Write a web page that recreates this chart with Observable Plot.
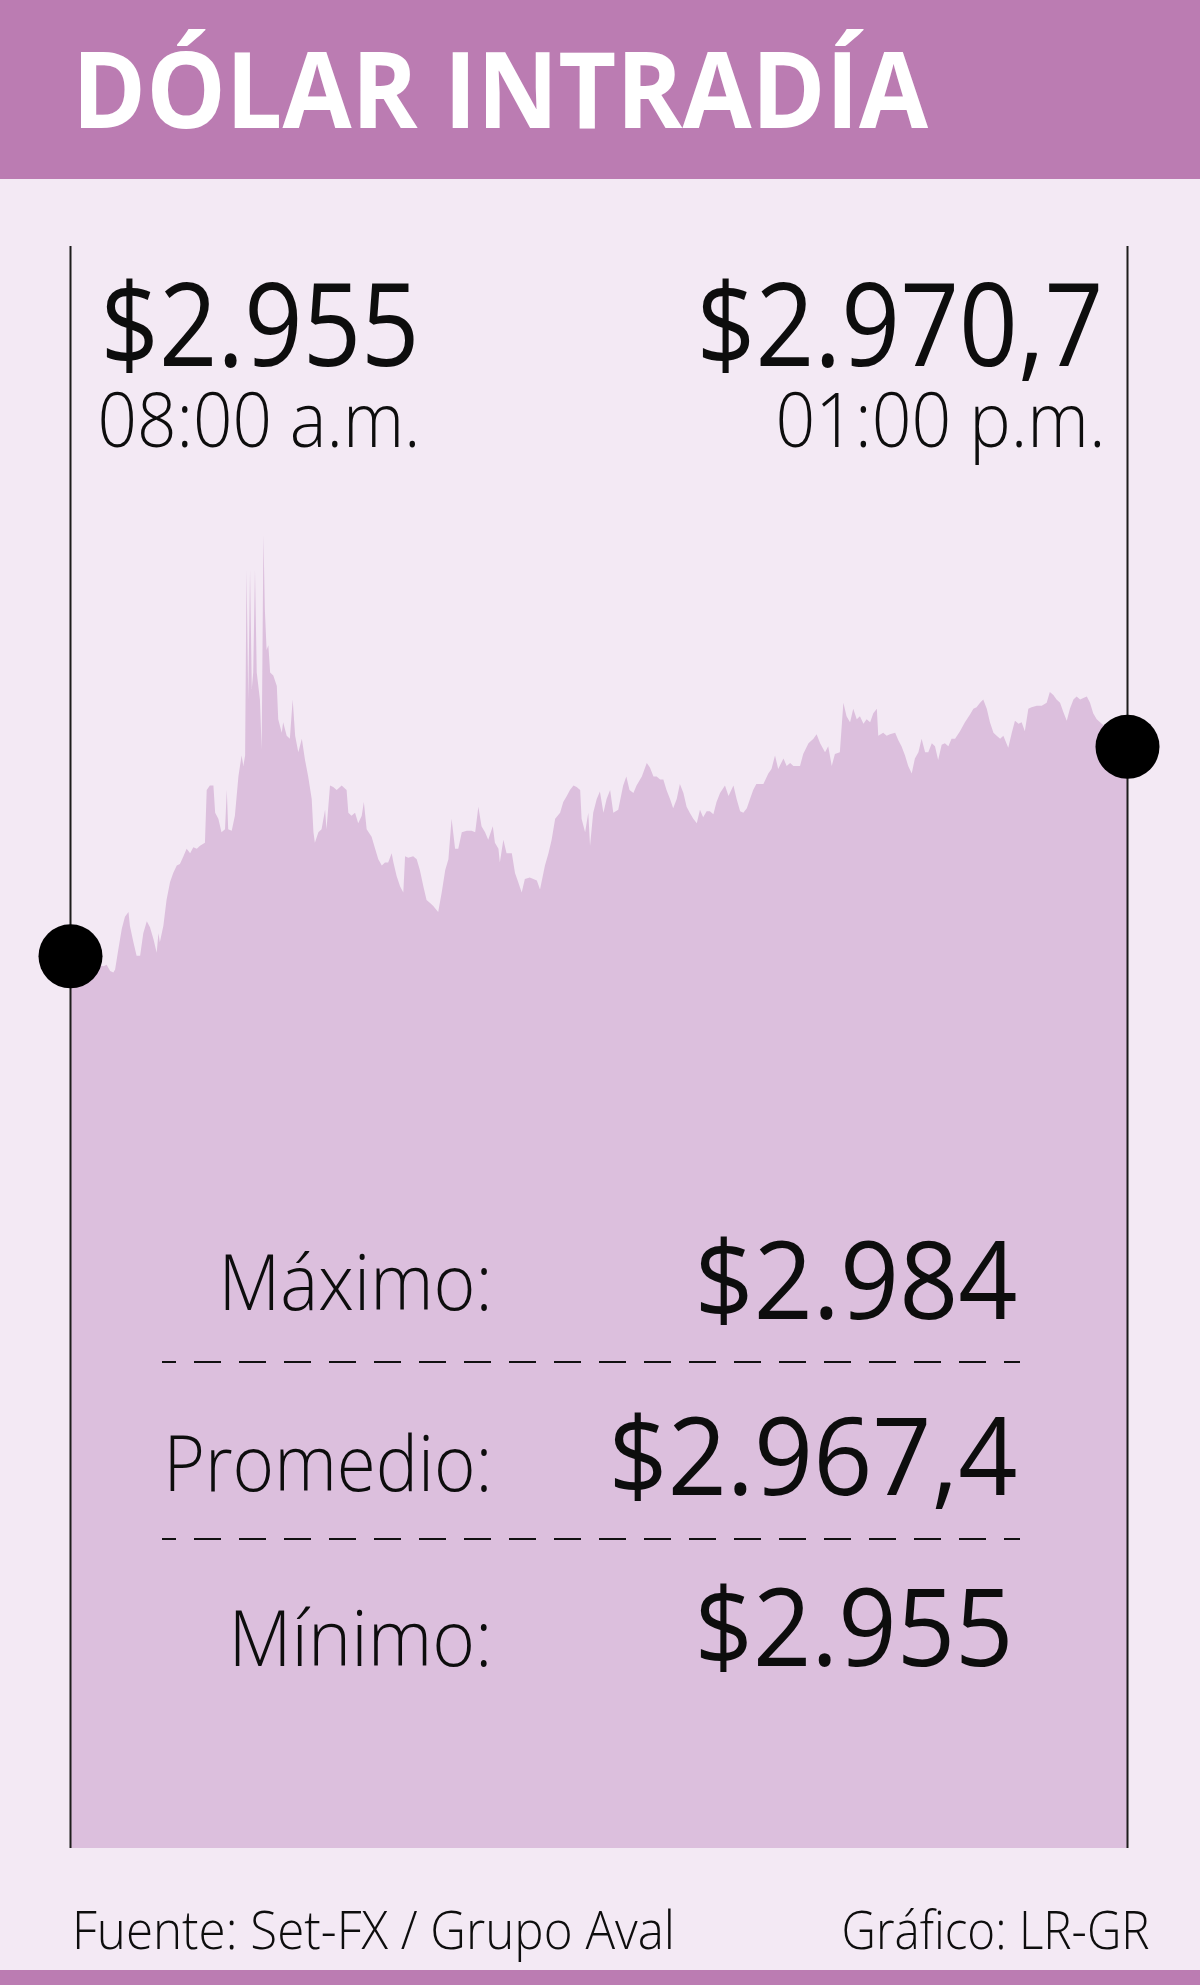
<!DOCTYPE html>
<html>
<head>
<meta charset="utf-8">
<script src="https://cdn.jsdelivr.net/npm/d3@7"></script>
<script src="https://cdn.jsdelivr.net/npm/@observablehq/plot@0.6"></script>
<style>
  html, body { margin: 0; padding: 0; background: #f3e9f4; }
  #page { position: relative; width: 1200px; height: 1985px; overflow: hidden; background: #f3e9f4; font-family: "Open Sans", "Noto Sans", sans-serif; }
  #header { position: absolute; left: 0; top: 0; width: 1200px; height: 179px; background: #bb7cb2; }
  #chart { position: absolute; left: 0; top: 179px; }
  #band { position: absolute; left: 0; top: 1970px; width: 1200px; height: 15px; background: #bb7cb2; }
  .t { position: absolute; white-space: nowrap; line-height: 1; }
  .dash { position: absolute; height: 2px; background-image: repeating-linear-gradient(to right, #111 0 27px, transparent 27px 45px); background-position-x: -13px; }
</style>
</head>
<body>
<div id="page">
  <div id="header"></div>
  <div id="chart"></div>
  <div id="band"></div>
</div>
<script>
// ---------------- data ----------------
const title = "DÓLAR INTRADÍA";
const source = "Fuente: Set-FX / Grupo Aval";
const credit = "Gráfico: LR-GR";

// minutes after 08:00 a.m.
const minutes = [0,9.5,10.4,11.4,12.3,12.8,13.7,14.7,15.6,16.6,17.0,18.0,18.9,19.9,20.8,21.8,22.7,23.7,24.6,25.1,25.5,26.5,27.4,28.4,29.3,30.3,31.2,32.2,33.1,34.1,35.0,36.0,36.9,38.3,38.8,39.7,40.7,41.2,42.1,43.0,44.0,44.5,44.9,45.9,46.8,47.8,48.7,49.2,49.7,50.1,50.6,51.1,51.6,52.0,52.5,53.0,53.9,54.4,54.9,55.3,55.8,56.3,56.8,57.7,58.7,59.1,60.1,60.5,61.5,62.4,63.2,63.9,64.8,65.8,66.7,67.6,68.6,69.1,69.5,70.5,71.4,72.4,72.8,73.8,74.7,75.7,77.1,78.5,79.0,79.9,80.9,81.8,82.8,83.4,84.2,85.6,86.6,87.5,88.5,89.4,90.3,91.3,91.8,92.7,93.7,94.6,95.1,96.0,97.4,98.4,99.3,100.3,101.2,102.2,103.1,104.5,105.5,106.5,107.4,108.3,109.3,110.2,111.2,112.6,114.0,115.0,115.9,116.8,117.8,118.7,120.0,120.6,121.6,122.0,123.0,123.9,125.4,126.3,127.2,128.2,129.1,130.5,132.5,133.4,134.8,135.8,136.7,137.7,139.1,140.0,141.0,141.9,142.9,143.8,144.8,145.2,146.2,147.1,147.6,148.5,149.5,150.4,151.4,152.3,153.3,154.2,155.6,157.0,157.9,158.8,159.9,160.8,162.3,163.7,164.6,165.6,166.5,167.5,168.4,169.3,170.3,171.2,172.2,173.1,174.1,175.0,175.9,176.9,177.9,178.8,179.7,180.7,181.6,182.6,183.5,184.5,185.9,186.9,188.3,189.2,190.2,191.1,192.1,193.0,193.9,194.8,196.8,198.2,199.1,200.1,201.0,202.5,203.4,204.4,205.3,207.2,208.1,209.6,211.0,211.9,212.9,214.3,215.2,216.2,217.1,218.5,219.5,220.4,221.4,222.3,223.3,224.2,225.2,226.1,227.1,228.0,229.0,229.4,230.8,231.8,232.7,234.2,235.1,236.0,237.0,237.9,238.9,239.8,240.8,241.7,242.7,243.6,244.6,245.5,246.4,247.4,248.3,249.3,250.2,251.2,252.6,254.0,255.4,256.4,257.3,258.3,259.2,260.2,261.1,262.1,263.0,264.0,264.9,266.3,267.3,268.2,269.2,270.1,271.0,272.0,272.9,274.4,275.8,277.2,278.1,279.1,280.0,281.0,281.9,282.9,283.8,284.8,285.7,286.7,287.6,288.6,289.5,290.4,291.4,300];

// price in pesos per dollar
const prices = [2956.1,2955.4,2955.5,2955.1,2955.0,2955.2,2956.5,2957.9,2958.7,2959.0,2958.1,2957.0,2956.1,2956.1,2957.6,2958.4,2958.0,2957.2,2956.3,2957.6,2957.0,2958.1,2959.8,2961.0,2961.6,2962.1,2962.2,2962.7,2963.2,2962.9,2963.3,2963.2,2963.4,2963.6,2967.1,2967.4,2967.4,2965.6,2965.2,2964.3,2964.5,2967.1,2964.5,2964.4,2965.4,2968.0,2969.4,2968.7,2969.4,2981.7,2973.1,2981.7,2973.8,2974.9,2981.7,2974.9,2973.1,2969.8,2984.0,2979.1,2976.4,2976.7,2974.9,2974.7,2974.0,2971.8,2970.9,2971.6,2970.7,2970.5,2973.1,2970.7,2969.6,2970.5,2969.1,2968.0,2966.5,2964.3,2963.6,2964.3,2964.5,2965.8,2964.5,2967.4,2967.3,2967.1,2967.4,2967.1,2965.6,2965.4,2965.6,2964.9,2965.4,2966.3,2964.5,2964.0,2963.2,2962.5,2962.1,2962.3,2962.3,2962.9,2962.3,2961.4,2960.7,2960.3,2962.7,2962.6,2962.7,2962.5,2961.8,2960.7,2959.8,2959.6,2959.4,2959.0,2960.3,2961.8,2962.5,2965.2,2963.2,2963.2,2964.3,2964.4,2964.4,2964.3,2966.0,2964.7,2964.3,2963.8,2964.7,2963.6,2963.2,2962.3,2963.8,2962.9,2962.9,2961.6,2961.0,2960.3,2961.2,2961.3,2961.1,2960.5,2962.1,2962.9,2963.8,2965.2,2965.6,2966.3,2966.7,2967.1,2967.4,2967.3,2967.1,2965.2,2964.3,2965.6,2963.4,2965.6,2966.5,2967.0,2965.6,2966.5,2967.1,2965.6,2965.8,2967.4,2968.0,2967.1,2966.9,2967.4,2968.0,2968.9,2968.6,2968.0,2968.0,2967.8,2967.8,2967.1,2966.5,2965.9,2966.5,2967.5,2966.9,2966.0,2965.6,2965.2,2964.9,2965.8,2965.3,2965.7,2965.7,2965.5,2966.3,2966.9,2967.4,2966.7,2967.4,2966.5,2965.7,2965.6,2965.9,2966.5,2967.1,2967.5,2967.5,2968.2,2968.5,2969.4,2968.5,2969.2,2968.7,2968.9,2968.7,2968.7,2969.5,2970.2,2970.5,2970.8,2970.2,2969.6,2970.0,2968.7,2969.5,2969.6,2972.9,2972.0,2971.6,2972.5,2971.8,2972.0,2971.5,2971.8,2971.6,2972.2,2972.5,2970.7,2970.9,2970.7,2970.8,2970.9,2970.4,2970.0,2969.4,2968.7,2968.2,2969.2,2969.6,2970.5,2969.6,2969.6,2970.2,2970.0,2969.1,2970.1,2970.2,2970.0,2970.5,2970.5,2971.0,2971.6,2972.1,2972.5,2972.6,2972.9,2973.1,2972.5,2971.6,2970.9,2970.7,2970.5,2970.7,2969.9,2970.9,2971.7,2971.5,2971.6,2971.0,2972.5,2972.6,2972.7,2972.7,2972.9,2973.6,2973.4,2973.1,2972.9,2972.3,2971.7,2972.5,2973.1,2973.3,2973.1,2973.2,2973.3,2972.9,2972.2,2971.8,2970.0];

// headline values
const openLabel = "08:00 a.m.";
const closeLabel = "01:00 p.m.";
const openValue = 2955;
const closeValue = 2970.7;
const statLabels = ["Máximo:", "Promedio:", "Mínimo:"];
const statValues = [2984, 2967.4, 2955];

// ---------------- formatting ----------------
const es = d3.formatLocale({decimal: ",", thousands: ".", grouping: [3], currency: ["$", ""]});
const fmt = v => Number.isInteger(v) ? es.format("$,.0f")(v) : es.format("$,.1f")(v);

const series = minutes.map((m, i) => ({m, p: prices[i]}));
const Y_DOMAIN = [2896.9, 3003.2];
const INK = "#0d0d0d";
const FONT = '"Open Sans", "Noto Sans", sans-serif';

// target widths used to fit the condensed original typeface
const fitWidth = new Map();
function label(text, opts, width) {
  fitWidth.set(text, width);
  return Plot.text([text], {text: d => d, lineAnchor: "bottom", fill: INK, fontFamily: FONT, ...opts});
}

const statY = [1063, 1246, 1419];
const statMarks = statLabels.flatMap((lab, i) => [
  label(lab, {frameAnchor: "top-left", dx: 422, dy: statY[i] + (i === 1 ? -2 : 0) - 0, textAnchor: "end", fontSize: 78, fontWeight: 300}, [274, 329, 264][i]),
  label(fmt(statValues[i]), {frameAnchor: "top-left", dx: 947 - (i === 2 ? 4 : 0), dy: statY[i] + (i === 0 ? 9 : i === 1 ? 2 : 0), textAnchor: "end", fontSize: 108, fontWeight: 400}, [323, 409, 318][i])
]);

const chart = Plot.plot({
  width: 1200,
  height: 1701,
  marginLeft: 70,
  marginRight: 73,
  marginTop: 67,
  marginBottom: 32,
  x: {domain: [minutes[0], minutes[minutes.length - 1]], axis: null},
  y: {domain: Y_DOMAIN, axis: null},
  style: {background: "transparent", overflow: "visible"},
  marks: [
    Plot.areaY(series, {x: "m", y1: Y_DOMAIN[0], y2: "p", fill: "#dcbfdd"}),
    Plot.ruleX([minutes[0], minutes[minutes.length - 1]], {stroke: "#1d1d1b", strokeWidth: 2}),
    Plot.dot([series[0], series[series.length - 1]], {x: "m", y: "p", r: 32, fill: "#000"}),
    label(fmt(openValue), {frameAnchor: "top-left", dx: 30, dy: 119, textAnchor: "start", fontSize: 115, fontWeight: 400}, 319),
    label(openLabel, {frameAnchor: "top-left", dx: 27, dy: 200, textAnchor: "start", fontSize: 76, fontWeight: 300}, 323),
    label(fmt(closeValue), {frameAnchor: "top-right", dx: -24, dy: 119, textAnchor: "end", fontSize: 115, fontWeight: 400}, 407),
    label(closeLabel, {frameAnchor: "top-right", dx: -22, dy: 200, textAnchor: "end", fontSize: 76, fontWeight: 300}, 330),
    ...statMarks
  ]
});
document.getElementById("chart").append(chart);

// fit the widths of the chart texts
chart.querySelectorAll("text").forEach(t => {
  const w = fitWidth.get(t.textContent);
  if (w) { t.setAttribute("textLength", w); t.setAttribute("lengthAdjust", "spacingAndGlyphs"); }
});

// dashed separators between stats
const page = document.getElementById("page");
[1361, 1538].forEach(y => {
  const d = document.createElement("div");
  d.className = "dash";
  d.style.left = "162px"; d.style.top = y + "px"; d.style.width = "858px";
  page.append(d);
});

// HTML text placed by baseline and fitted to width
function placeText(text, {x, anchor, baseline, size, weight, width, color}) {
  const el = document.createElement("div");
  el.className = "t";
  el.style.fontSize = size + "px";
  el.style.fontWeight = weight;
  el.style.color = color;
  el.style.left = "0px"; el.style.top = "0px";
  const span = document.createElement("span");
  span.textContent = text;
  const marker = document.createElement("span");
  marker.style.cssText = "display:inline-block;width:0;height:0;vertical-align:baseline;";
  el.append(span, marker);
  page.append(el);
  const pb = page.getBoundingClientRect();
  const baseOff = marker.getBoundingClientRect().top - pb.top;
  const w = span.getBoundingClientRect().width;
  const s = width / w;
  el.style.top = (baseline - baseOff) + "px";
  if (anchor === "end") {
    el.style.left = (x - w) + "px";
    el.style.transformOrigin = "right center";
  } else {
    el.style.left = x + "px";
    el.style.transformOrigin = "left center";
  }
  el.style.transform = `scaleX(${s})`;
}

placeText(title, {x: 72, anchor: "start", baseline: 128, size: 105, weight: 700, width: 856, color: "#ffffff"});
placeText(source, {x: 72, anchor: "start", baseline: 1949, size: 54, weight: 300, width: 603, color: INK});
placeText(credit, {x: 1150, anchor: "end", baseline: 1949, size: 54, weight: 300, width: 308, color: INK});
</script>
</body>
</html>
